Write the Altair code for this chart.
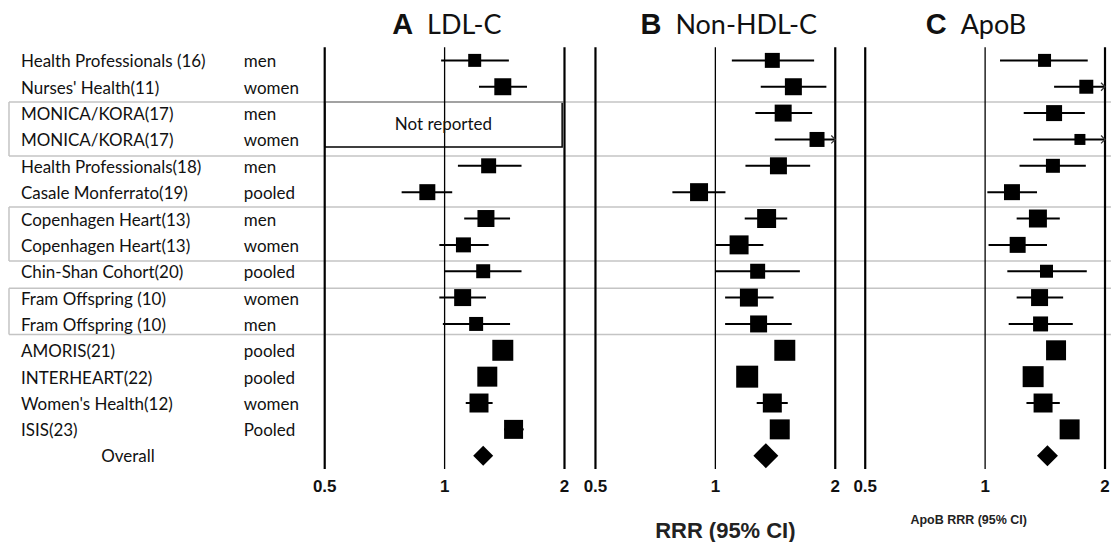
import altair as alt
import pandas as pd

# ---------------- data ----------------
studies = ["Health Professionals (16)", "Nurses' Health(11)", "MONICA/KORA(17)", "MONICA/KORA(17)",
           "Health Professionals(18)", "Casale Monferrato(19)", "Copenhagen Heart(13)",
           "Copenhagen Heart(13)", "Chin-Shan Cohort(20)", "Fram Offspring (10)", "Fram Offspring (10)",
           "AMORIS(21)", "INTERHEART(22)", "Women's Health(12)", "ISIS(23)", "Overall"]
groups = ["men", "women", "men", "women", "men", "pooled", "men", "women", "pooled",
          "women", "men", "pooled", "pooled", "women", "Pooled", ""]

# LDL-C (rows 2,3 not reported)
ldl_est = [1.19, 1.40, None, None, 1.29, 0.905, 1.27, 1.115, 1.25, 1.11, 1.20, 1.40, 1.28, 1.22, 1.49]
ldl_lo = [0.98, 1.22, None, None, 1.08, 0.78, 1.12, 0.97, 1.00, 0.97, 0.99, 1.36, 1.24, 1.13, 1.41]
ldl_hi = [1.45, 1.61, None, None, 1.56, 1.045, 1.46, 1.29, 1.56, 1.27, 1.46, 1.44, 1.32, 1.32, 1.58]
ldl_weight = [13, 17, None, None, 15, 16, 17, 15, 14, 17, 14, 21, 20, 19, 19]
ldl_overall = 1.25

# Non-HDL-C
nhdl_est = [1.39, 1.57, 1.48, 1.80, 1.44, 0.91, 1.345, 1.147, 1.277, 1.214, 1.284, 1.494, 1.202, 1.39, 1.451]
nhdl_lo = [1.10, 1.30, 1.26, 1.41, 1.19, 0.78, 1.185, 1.00, 1.00, 1.058, 1.058, 1.45, 1.16, 1.27, 1.41]
nhdl_hi = [1.77, 1.90, 1.75, 2.30, 1.73, 1.06, 1.515, 1.32, 1.63, 1.40, 1.555, 1.54, 1.24, 1.52, 1.49]
nhdl_weight = [15, 17, 17, 15, 17, 18, 19, 19, 15, 18, 17, 21, 22, 19, 20]
nhdl_overall = 1.339

# ApoB
apob_est = [1.41, 1.795, 1.49, 1.73, 1.48, 1.168, 1.357, 1.207, 1.426, 1.37, 1.378, 1.507, 1.32, 1.398, 1.63]
apob_lo = [1.09, 1.49, 1.25, 1.32, 1.22, 1.013, 1.20, 1.02, 1.137, 1.20, 1.146, 1.46, 1.28, 1.27, 1.58]
apob_hi = [1.81, 2.30, 1.78, 2.30, 1.79, 1.35, 1.54, 1.43, 1.80, 1.57, 1.66, 1.55, 1.36, 1.54, 1.68]
apob_weight = [13, 14, 16, 11, 14, 16, 18, 16, 13, 17, 15, 20, 21, 19, 20]
apob_overall = 1.434

ticks = [0.5, 1, 2]

# ---------------- layout constants ----------------
ROW_H = 26.38
N_ROWS = len(studies)
PLOT_H = ROW_H * N_ROWS
SEPARATORS = [1.58, 3.63, 5.56, 7.61, 8.65, 10.40]
BOXES = [(1.58, 3.63), (5.56, 7.61), (8.65, 10.40)]
LABEL_FONT = "Lato"
BOLD_FONT = "Liberation Sans"

yscale = alt.Scale(domain=[-0.5, N_ROWS - 0.5], reverse=True, nice=False, zero=False)


def Y(field):
    return alt.Y(field, type="quantitative", scale=yscale, axis=None)


sep_df = pd.DataFrame({"pos": SEPARATORS})
sep_layer = alt.Chart(sep_df).mark_rule(color="#c4c4c4", strokeWidth=1.5).encode(y=Y("pos"))


def panel(letter, name, est, lo, hi, weight, overall, width, axis_title=None,
          title_size=22, title_x=0, title_y=0, title_dx=95, not_reported=False,
          diamond=21):
    xmax = 2 * 2 ** ((width - 240) / 120)
    xs = alt.Scale(type="log", domain=[0.5, xmax], nice=False, zero=False)

    def X(field):
        return alt.X(field, type="quantitative", scale=xs, axis=None)

    recs = []
    for i, e in enumerate(est):
        if e is None:
            continue
        recs.append(dict(row=i, est=e, lo=lo[i], hi=min(hi[i], 2.0),
                         arrow=hi[i] > 2.0, w2=weight[i] ** 2))
    df = pd.DataFrame(recs)
    layers = []

    if not_reported:
        nr = pd.DataFrame({"x": [0.5], "x2": [1.973], "y": [1.58], "y2": [3.29],
                           "xm": [0.993], "ym": [2.44], "t": ["Not reported"]})
        layers.append(alt.Chart(nr).mark_rect(fill="white", stroke="black", strokeWidth=1.5).encode(
            x=X("x"), x2="x2", y=Y("y"), y2="y2"))
    layers.append(sep_layer)

    ref = pd.DataFrame({"v": ticks, "w": [2.2, 1.3, 2.2], "lab": ["0.5", "1", "2"]})
    layers.append(alt.Chart(ref).mark_rule(color="black").encode(
        x=X("v"), strokeWidth=alt.StrokeWidth("w:Q", scale=None)))
    # tick labels
    layers.append(alt.Chart(ref).mark_text(font=BOLD_FONT, fontWeight="bold", fontSize=17,
                                           color="#111", baseline="alphabetic", align="center").encode(
        x=X("v"), y=alt.value(PLOT_H + 23), text="lab:N"))

    layers.append(alt.Chart(df).mark_rule(color="black", strokeWidth=2).encode(
        x=X("lo"), x2="hi", y=Y("row")))
    layers.append(alt.Chart(df).mark_square(color="black", opacity=1, strokeWidth=0).encode(
        x=X("est"), y=Y("row"), size=alt.Size("w2:Q", scale=None, legend=None)))
    arr = df[df["arrow"]]
    if len(arr):
        layers.append(alt.Chart(arr).mark_point(shape="M-1,-1L0,0L-1,1", filled=False, color="#333",
                                                strokeWidth=1.2, size=64, opacity=1).encode(
            x=X("hi"), y=Y("row")))
    ov = pd.DataFrame({"row": [N_ROWS - 1], "est": [overall]})
    layers.append(alt.Chart(ov).mark_point(shape="diamond", filled=True, color="black", opacity=1,
                                           size=diamond ** 2).encode(x=X("est"), y=Y("row")))
    if not_reported:
        layers.append(alt.Chart(nr).mark_text(font=LABEL_FONT, fontSize=17, color="#111",
                                              baseline="middle").encode(
            x=X("xm"), y=Y("ym"), text="t:N"))

    tl = pd.DataFrame({"a": [letter], "b": [name], "t": [axis_title or ""]})
    layers.append(alt.Chart(tl).mark_text(font=BOLD_FONT, fontWeight="bold", fontSize=29, align="right",
                                          baseline="alphabetic", color="#111").encode(
        x=alt.value(title_dx - 7), y=alt.value(-13.5), text="a:N"))
    layers.append(alt.Chart(tl).mark_text(font=LABEL_FONT, fontSize=27, align="left",
                                          baseline="alphabetic", color="#111").encode(
        x=alt.value(title_dx + 7), y=alt.value(-13.5), text="b:N"))
    if axis_title:
        layers.append(alt.Chart(tl).mark_text(font=BOLD_FONT, fontWeight="bold", fontSize=title_size,
                                              align="center", baseline="alphabetic", color="#222").encode(
            x=alt.value(title_x), y=alt.value(PLOT_H + title_y), text="t:N"))
    return alt.layer(*layers).properties(width=width, height=PLOT_H)


# ---------------- label column ----------------
lab_df = pd.DataFrame({"row": list(range(N_ROWS)), "study": studies, "group": groups})
box_df = pd.DataFrame({"y": [b[0] for b in BOXES], "y2": [b[1] for b in BOXES]})
lab = alt.layer(
    sep_layer,
    alt.Chart(box_df).mark_rule(color="#c4c4c4", strokeWidth=1.5).encode(
        x=alt.value(0), y=Y("y"), y2="y2"),
    alt.Chart(lab_df).transform_filter("datum.group != ''").mark_text(
        font=LABEL_FONT, fontSize=17, align="left", baseline="middle", dy=2, color="#111").encode(
        x=alt.value(12), y=Y("row"), text="study:N"),
    alt.Chart(lab_df).transform_filter("datum.group != ''").mark_text(
        font=LABEL_FONT, fontSize=17, align="left", baseline="middle", dy=2, color="#111").encode(
        x=alt.value(235), y=Y("row"), text="group:N"),
    alt.Chart(lab_df).transform_filter("datum.group == ''").mark_text(
        font=LABEL_FONT, fontSize=17, align="center", baseline="middle", dy=1, color="#111").encode(
        x=alt.value(119), y=Y("row"), text="study:N"),
).properties(width=316, height=PLOT_H)

pA = panel("A", "LDL-C", ldl_est, ldl_lo, ldl_hi, ldl_weight, ldl_overall, 271,
           title_dx=95.5, not_reported=True, diamond=20)
pB = panel("B", "Non-HDL-C", nhdl_est, nhdl_lo, nhdl_hi, nhdl_weight, nhdl_overall, 270,
           axis_title="RRR (95% CI)", title_size=22, title_x=130, title_y=69, title_dx=73, diamond=25)
pC = panel("C", "ApoB", apob_est, apob_lo, apob_hi, apob_weight, apob_overall, 246,
           axis_title="ApoB RRR (95% CI)", title_size=12.5, title_x=103.5, title_y=55.5,
           title_dx=88.5, diamond=21)

chart = alt.hconcat(lab, pA, pB, pC, spacing=0, bounds="flush").configure_view(
    stroke=None).properties(padding={"top": 2, "left": 0, "right": 0, "bottom": 0},
                            background="white")

chart.save("out.html", embed_options={"renderer": "svg", "actions": False})
